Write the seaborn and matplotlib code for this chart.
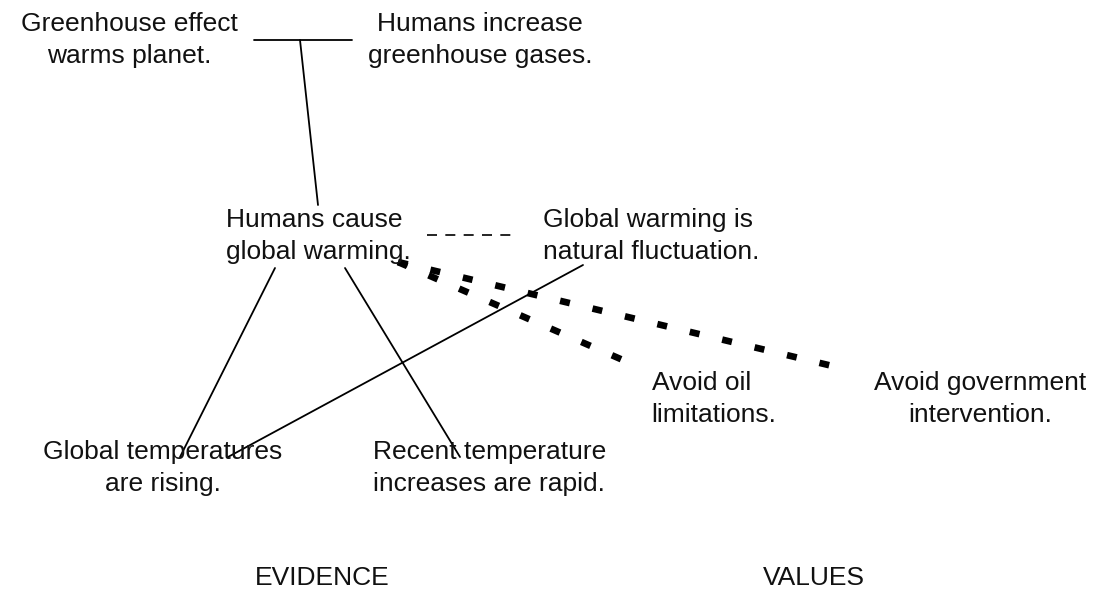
import matplotlib
matplotlib.use("Agg")
import matplotlib.pyplot as plt
import seaborn as sns
import pandas as pd

sns.set_theme(style="white")
plt.rcParams['font.family'] = ['Liberation Sans', 'DejaVu Sans']

# Nodes (label, centre x, centre y) in canvas pixel units
node_labels = [
    "Greenhouse effect\nwarms planet.",
    "Humans increase\ngreenhouse gases.",
    "Humans cause\nglobal warming.",
    "Global warming is\nnatural fluctuation.",
    "Global temperatures\nare rising.",
    "Recent temperature\nincreases are rapid.",
    "Avoid oil\nlimitations.",
    "Avoid government\nintervention.",
]
node_x = [129, 480, 318, 651, 163, 490, 714, 980]
node_y = [40, 40, 236, 236, 468, 468, 399, 399]
node_align = ["center", "center", "left", "left", "center", "left", "left", "center"]

# Edges: endpoints and style
edge_x0 = [254, 300, 427, 275, 345, 583, 398, 398]
edge_y0 = [40, 40, 235, 268, 268, 265, 262, 262]
edge_x1 = [352, 318, 512, 180, 460, 228, 632, 845]
edge_y1 = [40, 205, 235, 457, 457, 457, 364, 369]
edge_style = ["solid", "solid", "dashed", "solid", "solid", "solid", "dotted", "dotted"]

section_labels = ["EVIDENCE", "VALUES"]
section_x = [322, 814]
section_y = [578, 578]

fig = plt.figure(figsize=(11.06, 5.92), dpi=100)
ax = fig.add_axes([0, 0, 1, 1])

styles = {
    "solid": dict(lw=1.3, ls="-"),
    "dashed": dict(lw=1.2, ls=(0, (6, 5))),
    "dotted": dict(lw=4.8, ls=(0, (1.5, 3.5))),
}
for x0, y0, x1, y1, st in zip(edge_x0, edge_y0, edge_x1, edge_y1, edge_style):
    df = pd.DataFrame({"x": [x0, x1], "y": [y0, y1]})
    sns.lineplot(data=df, x="x", y="y", ax=ax, color="black", sort=False,
                 estimator=None, dash_capstyle="butt", **styles[st])

for lab, x, y, al in zip(node_labels, node_x, node_y, node_align):
    ax.text(x, y, lab, ha="center", va="center", fontsize=19,
            linespacing=1.42, multialignment=al, color="#111111")

for lab, x, y in zip(section_labels, section_x, section_y):
    ax.text(x, y, lab, ha="center", va="center", fontsize=19, color="#111111")

ax.set_xlim(0, 1106)
ax.set_ylim(592, 0)
ax.set_axis_off()
fig.savefig("out.png", dpi=100)
